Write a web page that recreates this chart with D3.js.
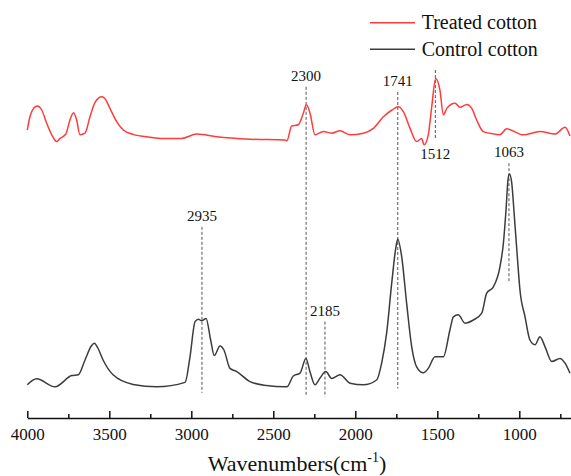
<!doctype html>
<html>
<head>
<meta charset="utf-8">
<script src="https://cdn.jsdelivr.net/npm/d3@7"></script>
<style>
  body { margin: 0; background: #fff; }
  svg text { font-family: "Liberation Serif", "Times New Roman", "DejaVu Serif", serif !important; }
</style>
</head>
<body>
<script>
// wavenumber (cm-1) and intensity (a.u.)
const treatedWn = [4000, 3984, 3960, 3939, 3912, 3882, 3851, 3821, 3800, 3765, 3740, 3718, 3699, 3679, 3648, 3618, 3587, 3546, 3526, 3496, 3455, 3415, 3355, 3252, 3171, 3059, 2967, 2845, 2642, 2429, 2417, 2388, 2348, 2317, 2298, 2276, 2246, 2195, 2144, 2093, 2032, 1951, 1890, 1829, 1776, 1738, 1707, 1666, 1626, 1595, 1581, 1555, 1534, 1510, 1484, 1463, 1442, 1392, 1362, 1320, 1290, 1260, 1220, 1179, 1118, 1077, 976, 874, 782, 721, 691];
const treatedVal = [72, 75.3, 77.5, 78, 77, 73.7, 70.8, 69.1, 69.9, 71, 74.5, 76.3, 74.5, 70.8, 71.2, 75.3, 78.9, 80.3, 79.8, 77.4, 74.1, 72, 70.9, 70.2, 69.9, 69.9, 71, 70.3, 69.7, 69.5, 69.3, 73, 73.3, 76.2, 78.3, 76.2, 70.8, 71.6, 71.2, 71.8, 70.8, 71.2, 72.4, 75.3, 77, 77.8, 76.6, 72.4, 69.1, 69.9, 68.3, 70.8, 77.8, 84.9, 82, 75.8, 77.4, 78.7, 77.7, 78.4, 77.4, 74.5, 71.6, 71.2, 70.8, 72.3, 70.8, 71.6, 71, 72.7, 70.5];

const controlWn = [4000, 3943, 3831, 3729, 3689, 3648, 3610, 3591, 3570, 3538, 3477, 3355, 3211, 3038, 3008, 2977, 2957, 2937, 2910, 2882, 2860, 2825, 2801, 2764, 2723, 2642, 2540, 2429, 2417, 2378, 2337, 2301, 2276, 2246, 2215, 2180, 2144, 2093, 2032, 1951, 1870, 1839, 1809, 1778, 1752, 1741, 1717, 1687, 1656, 1626, 1585, 1555, 1514, 1463, 1423, 1402, 1372, 1331, 1280, 1229, 1199, 1158, 1118, 1097, 1081, 1069, 1060, 1046, 1030, 1012, 996, 965, 935, 904, 874, 843, 802, 752, 721, 691];
const controlVal = [8.3, 9.8, 7.8, 10.6, 10.8, 14.5, 18, 18.7, 17.5, 14.5, 10.8, 8.4, 7.8, 8.9, 15.3, 24.1, 24.7, 24.3, 24.9, 19.5, 15.6, 18, 17, 12.4, 11.6, 9.1, 8.1, 7.8, 7.8, 10.5, 11.2, 14.9, 11.5, 8.3, 10, 11.6, 9.9, 10.8, 8.7, 8.3, 9.5, 13.8, 21.2, 33.7, 42.8, 44.7, 40.3, 28.7, 17.8, 12.8, 11.3, 12.4, 15.3, 15.3, 22, 25.3, 25.8, 23.7, 24.5, 26.2, 31.2, 32.8, 37.8, 43.7, 52, 59.5, 61, 58.7, 50.3, 40.3, 32, 25.3, 19.5, 18.3, 20.3, 17.8, 14.1, 14.9, 13.7, 11.2];

// peak markers: label, top and bottom of the dashed guide (intensity units)
const peakLabels = ["2935", "2300", "2185", "1741", "1512", "1063"];
const peakTop = [47.8, 82.8, 24.1, 81.5, 87, 63.7];
const peakBottom = [6.3, 5.8, 5.3, 7.4, 69.6, 34.1];
const peakLabelSide = ["above", "above", "above", "above", "below", "above"];

const seriesNames = ["Treated cotton", "Control cotton"];
const seriesColors = ["#ff3b3b", "#3c3c3c"];

const majorTicks = [4000, 3500, 3000, 2500, 2000, 1500, 1000];
const minorTicks = [3750, 3250, 2750, 2250, 1750, 1250, 750];

const width = 571, height = 476;

const x = d3.scaleLinear().domain([4000, 650]).range([27.3, 576.7]);
const y = d3.scaleLinear().domain([0, 100]).range([418, 18]);

const svg = d3.select("body").append("svg")
    .attr("width", width)
    .attr("height", height)
    .style("font-family", "'Liberation Serif', 'Times New Roman', serif");

const line = d3.line()
    .x(d => x(d[0]))
    .y(d => y(d[1]))
    .curve(d3.curveMonotoneX);

// dashed peak guides
peakLabels.forEach((lab, i) => {
  const px = x(+lab);
  svg.append("line")
      .attr("x1", px).attr("x2", px)
      .attr("y1", y(peakTop[i])).attr("y2", y(peakBottom[i]))
      .attr("stroke", "#555")
      .attr("stroke-width", 1)
      .attr("stroke-dasharray", "3,2");
  const above = peakLabelSide[i] === "above";
  svg.append("text")
      .attr("x", px)
      .attr("y", above ? y(peakTop[i]) - 6 : y(peakBottom[i]) + 19)
      .attr("text-anchor", "middle")
      .attr("font-size", 15)
      .attr("fill", "#111")
      .text(lab);
});

// spectra
const series = [d3.zip(treatedWn, treatedVal), d3.zip(controlWn, controlVal)];
series.forEach((pts, i) => {
  svg.append("path")
      .datum(pts)
      .attr("fill", "none")
      .attr("stroke", seriesColors[i])
      .attr("stroke-width", 1.5)
      .attr("stroke-linejoin", "round")
      .attr("d", line);
});

// x axis, ticks pointing inward
svg.append("g")
    .attr("transform", `translate(0,${y(0)})`)
    .call(d3.axisBottom(x).tickValues(minorTicks).tickSizeInner(-4).tickSizeOuter(0).tickFormat(""))
    .call(g => g.select(".domain").remove())
    .call(g => g.selectAll("line").attr("stroke", "#111").attr("stroke-width", 1.5));

svg.append("g")
    .attr("transform", `translate(0,${y(0)})`)
    .attr("font-family", null)
    .call(d3.axisBottom(x).tickValues(majorTicks).tickSizeInner(-7).tickSizeOuter(0).tickPadding(10).tickFormat(d3.format("d")))
    .attr("font-family", null)
    .call(g => g.select(".domain").attr("stroke", "#111").attr("stroke-width", 1.5))
    .call(g => g.selectAll("line").attr("stroke", "#111").attr("stroke-width", 1.5))
    .call(g => g.selectAll("text")
        .attr("font-size", 17)
        .attr("fill", "#111"));

// axis title
const title = svg.append("text")
    .attr("x", 297)
    .attr("y", 471)
    .attr("text-anchor", "middle")
    .attr("font-size", 22)
    .attr("fill", "#111");
title.append("tspan").text("Wavenumbers(cm");
title.append("tspan").attr("font-size", 14).attr("dy", -9).text("-1");
title.append("tspan").attr("dy", 9).text(")");

// legend
seriesNames.forEach((name, i) => {
  const ly = 22.7 + i * 26.6;
  svg.append("line")
      .attr("x1", 370).attr("x2", 415)
      .attr("y1", ly).attr("y2", ly)
      .attr("stroke", seriesColors[i])
      .attr("stroke-width", 1.5);
  svg.append("text")
      .attr("x", 421.7)
      .attr("y", ly + 6.5)
      .attr("font-size", 20)
      .attr("fill", "#111")
      .text(name);
});
</script>
</body>
</html>
